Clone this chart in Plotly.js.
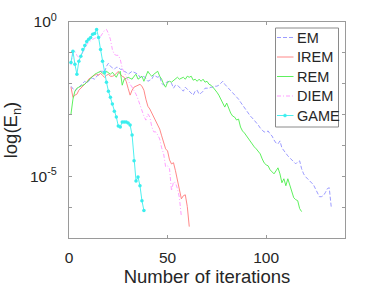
<!DOCTYPE html>
<html>
<head>
<meta charset="utf-8">
<script src="https://cdn.plot.ly/plotly-3.0.1.min.js"></script>
<style>html,body{margin:0;padding:0;background:#fff;}#chart{width:382px;height:291px;}</style>
</head>
<body>
<div id="chart"></div>
<script>
// Series names
const seriesNames = ['EM', 'IREM', 'REM', 'DIEM', 'GAME'];

// EM (iterations 1..133)
const emValues = [8.30e-3,6.65e-3,5.73e-3,6.65e-3,7.71e-3,8.30e-3,0.0104,0.0120,0.0104,0.0120,
0.0150,0.0150,0.0140,0.0175,0.0202,0.0253,0.0253,0.0235,0.0367,0.0459,
0.0367,0.0316,0.0294,0.0341,0.0341,0.0294,0.0294,0.0253,0.0235,0.0202,
0.0235,0.0253,0.0235,0.0218,0.0202,0.0162,0.0162,0.0175,0.0140,0.0120,
0.0130,0.0140,0.0188,0.0175,0.0162,0.0175,0.0104,8.95e-3,0.0104,0.0120,
0.0112,0.0104,7.16e-3,8.95e-3,8.95e-3,7.71e-3,6.65e-3,5.73e-3,7.71e-3,6.65e-3,
5.32e-3,4.94e-3,4.26e-3,5.73e-3,6.17e-3,4.59e-3,4.94e-3,5.73e-3,7.16e-3,7.16e-3,
7.16e-3,7.71e-3,7.71e-3,8.30e-3,8.30e-3,8.95e-3,0.0104,0.0120,9.64e-3,8.30e-3,
6.65e-3,5.73e-3,4.94e-3,4.26e-3,3.67e-3,3.16e-3,2.53e-3,2.02e-3,1.62e-3,1.30e-3,
1.04e-3,8.95e-4,7.71e-4,6.65e-4,5.32e-4,4.59e-4,3.67e-4,3.16e-4,2.72e-4,2.72e-4,
2.94e-4,2.35e-4,2.02e-4,1.50e-4,1.20e-4,1.12e-4,1.40e-4,8.30e-5,6.65e-5,5.32e-5,
4.59e-5,3.95e-5,3.41e-5,2.94e-5,2.53e-5,2.94e-5,3.16e-5,1.75e-5,1.20e-5,9.64e-6,
8.30e-6,7.71e-6,6.17e-6,5.32e-6,3.95e-6,2.72e-6,2.18e-6,2.18e-6,2.35e-6,2.94e-6,
3.95e-6,4.26e-6,1.04e-6];

// IREM (iterations 1..61)
const iremValues = [7.76e-3,3.63e-3,4.27e-3,4.57e-3,6.17e-3,7.08e-3,8.32e-3,9.55e-3,0.0112,0.0141,
0.0162,0.0174,0.0186,0.0204,0.0186,0.0219,0.0186,0.0162,0.0186,0.0204,
0.0174,0.0174,0.0186,0.0219,0.0251,0.0204,0.0174,0.0162,0.0120,7.08e-3,
4.27e-3,6.17e-3,7.76e-3,8.32e-3,8.91e-3,9.55e-3,8.32e-3,6.17e-3,3.16e-3,1.86e-3,
1.51e-3,1.12e-3,8.32e-4,6.17e-4,4.90e-4,3.39e-4,2.04e-4,1.29e-4,7.76e-5,6.61e-5,
3.39e-5,2.51e-5,2.75e-5,1.51e-5,7.08e-6,3.63e-6,1.86e-6,2.34e-6,2.51e-6,1.05e-6,
2.34e-7];

// REM (iterations 1..118)
const remValues = [1.04e-3,3.16e-3,5.73e-3,7.16e-3,7.71e-3,8.30e-3,8.95e-3,9.64e-3,0.0112,0.0130,
0.0162,0.0175,0.0202,0.0218,0.0235,0.0253,0.0218,0.0202,0.0253,0.0218,
0.0202,0.0235,0.0188,0.0162,0.0218,0.0253,8.95e-3,0.0140,0.0150,0.0162,
0.0150,0.0140,0.0175,0.0202,0.0140,0.0162,0.0175,0.0120,0.0188,0.0253,
0.0202,0.0175,0.0202,0.0235,0.0253,0.0175,0.0140,9.64e-3,7.71e-3,0.0112,
0.0120,0.0112,0.0130,0.0140,0.0162,0.0140,0.0150,0.0162,0.0140,0.0175,
0.0162,0.0175,0.0130,0.0140,0.0120,0.0140,0.0120,0.0140,0.0112,0.0120,
9.64e-3,8.95e-3,7.71e-3,6.65e-3,5.32e-3,4.26e-3,3.16e-3,2.35e-3,1.75e-3,2.35e-3,
1.50e-3,1.12e-3,8.95e-4,8.30e-4,6.65e-4,7.16e-4,3.95e-4,2.94e-4,2.53e-4,2.02e-4,
1.62e-4,1.40e-4,1.04e-4,8.95e-5,7.71e-5,6.65e-5,5.32e-5,3.67e-5,2.72e-5,2.35e-5,
2.18e-5,1.62e-5,1.40e-5,1.20e-5,1.50e-5,1.88e-5,1.20e-5,6.17e-6,8.30e-6,4.94e-6,
8.30e-6,5.32e-6,2.94e-6,2.02e-6,1.75e-6,1.62e-6,8.95e-7,7.16e-7];

// DIEM (iterations 1..57)
const diemValues = [0.0398,0.0955,0.112,0.0832,0.0708,0.0776,0.105,0.141,0.186,0.219,
0.251,0.275,0.295,0.316,0.339,0.339,0.427,0.537,0.575,0.427,
0.275,0.129,0.0891,0.0832,0.0832,0.0617,0.0316,0.0234,0.0162,0.0120,
9.55e-3,7.76e-3,6.17e-3,4.57e-3,3.16e-3,2.04e-3,1.29e-3,8.91e-4,6.61e-4,1.05e-3,
8.32e-4,3.98e-4,2.75e-4,2.75e-4,2.19e-4,1.62e-4,8.32e-5,5.37e-5,2.04e-5,2.19e-5,
1.74e-5,3.39e-6,6.61e-6,6.17e-6,3.98e-6,2.04e-6,4.90e-7];

// GAME (iterations 1..38)
const gameValues = [0.049,0.112,0.0427,0.0204,0.0537,0.0776,0.129,0.174,0.234,0.275,
0.316,0.398,0.427,0.575,0.316,0.129,0.0537,0.0234,0.0112,5.75e-3,
3.63e-3,2.19e-3,1.29e-3,8.3e-4,4.27e-4,3.98e-4,5.75e-4,5.75e-4,5.75e-4,5.37e-4,
4.57e-4,2.19e-4,3.16e-5,7.08e-6,9.55e-6,4.9e-6,1.62e-6,7.76e-7];

// Axis ticks
const xTickVals = [0, 50, 100];
const xTickText = ['0', '50', '100'];
const yTickVals = [1, 1e-5];
const yTickText = ['10<sup>0</sup>', '10<sup>-5</sup>'];
const yMinorTickVals = [1e-1, 1e-2, 1e-3, 1e-4, 1e-6, 1e-7];

function iters(arr) { return arr.map((_, i) => i + 1); }

const colors = ['#9090ff', '#ff7a7a', '#4cee4c', '#ff94ff', '#3aeeee'];
const dashes = ['4px,2px', 'solid', 'solid', '4px,2px,1px,2px', 'solid'];
const allValues = [emValues, iremValues, remValues, diemValues, gameValues];

const traces = allValues.map((vals, k) => ({
  x: iters(vals),
  y: vals,
  type: 'scatter',
  mode: k === 4 ? 'lines+markers' : 'lines',
  name: seriesNames[k],
  line: {color: colors[k], width: 0.9, dash: dashes[k]},
  marker: {color: colors[k], size: 3.5},
  showlegend: false,
  hoverinfo: 'skip'
}));

// Manual MATLAB-style legend (paper coordinates derived from pixel layout)
const L = 69, R = 345, T = 22, B = 238;
const px = v => (v - L) / (R - L);
const py = v => (B - v) / (B - T);
const shapes = [{
  type: 'rect', xref: 'paper', yref: 'paper',
  x0: px(275.5), x1: px(338.5), y0: py(28), y1: py(127),
  line: {color: '#8a8a8a', width: 1}, fillcolor: 'rgba(255,255,255,1)', layer: 'above'
}];
const annotations = [];
const rowY = [37.5, 57, 76.5, 96, 115.5];
seriesNames.forEach((nm, k) => {
  shapes.push({
    type: 'line', xref: 'paper', yref: 'paper',
    x0: px(277), x1: px(293.5), y0: py(rowY[k]), y1: py(rowY[k]),
    line: {color: colors[k], width: 0.9, dash: dashes[k]}, layer: 'above'
  });
  if (k === 4) {
    shapes.push({
      type: 'circle', xref: 'paper', yref: 'paper',
      x0: px(283.5), x1: px(286.5), y0: py(rowY[k] + 1.5), y1: py(rowY[k] - 1.5),
      line: {color: colors[k], width: 0.5}, fillcolor: colors[k], layer: 'above'
    });
  }
  annotations.push({
    xref: 'paper', yref: 'paper', x: px(294.5), y: py(rowY[k]),
    xanchor: 'left', yanchor: 'middle', showarrow: false, text: nm,
    font: {family: 'Liberation Sans, Arial, sans-serif', size: 14.5, color: '#262626'}
  });
});

const axisCommon = {
  showline: true, linecolor: '#9a9a9a', linewidth: 1, mirror: 'allticks',
  ticks: 'inside', ticklen: 3, tickcolor: '#9a9a9a', tickwidth: 1,
  showgrid: false, zeroline: false,
  tickfont: {family: 'Liberation Sans, Arial, sans-serif', size: 15.5, color: '#262626'}
};

const layout = {
  width: 382, height: 291,
  margin: {l: 69, r: 37, t: 22, b: 53, pad: 0},
  paper_bgcolor: '#ffffff', plot_bgcolor: '#ffffff',
  showlegend: false,
  xaxis: Object.assign({}, axisCommon, {
    range: [0, 140], tickmode: 'array', tickvals: xTickVals, ticktext: xTickText,
    ticklabelstandoff: 5,
    title: {text: 'Number of iterations', standoff: 4,
      font: {family: 'Liberation Sans, Arial, sans-serif', size: 18.5, color: '#262626'}}
  }),
  yaxis: Object.assign({}, axisCommon, {
    type: 'log', range: [-7, 0], tickmode: 'array', tickvals: yTickVals, ticktext: yTickText,
    ticklabelstandoff: 8,
    minor: {tickmode: 'array', tickvals: yMinorTickVals, ticks: 'inside', ticklen: 3,
      tickcolor: '#9a9a9a', tickwidth: 1, showgrid: false},
    title: {text: 'log(E<sub>n</sub>)', standoff: 8,
      font: {family: 'Liberation Sans, Arial, sans-serif', size: 18.5, color: '#262626'}}
  }),
  shapes: shapes,
  annotations: annotations
};

Plotly.newPlot('chart', traces, layout, {staticPlot: true, displayModeBar: false});
</script>
</body>
</html>
